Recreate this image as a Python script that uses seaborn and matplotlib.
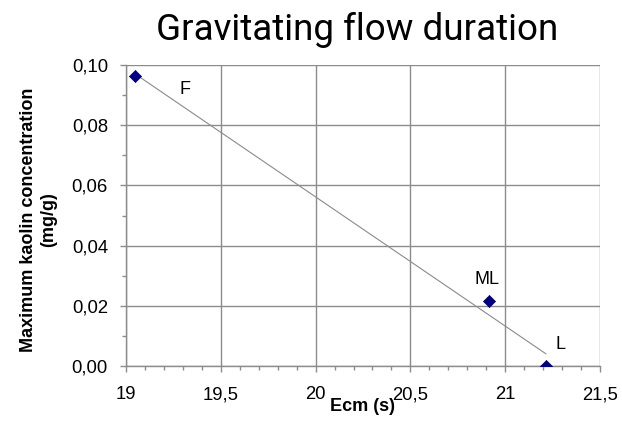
import numpy as np
import pandas as pd
import matplotlib
matplotlib.use("Agg")
import matplotlib.pyplot as plt
from matplotlib.ticker import MultipleLocator, FuncFormatter
import seaborn as sns

# Data
labels = ["F", "ML", "L"]
ecm = [19.05, 20.915, 21.215]
kaolin = [0.0963, 0.0216, 0.0]
label_x = [19.31, 20.905, 21.294]
label_y = [0.0917, 0.0289, 0.0070]

df = pd.DataFrame({"Ecm": ecm, "Kaolin": kaolin, "label": labels})

sns.set_style("white")
plt.rcParams["font.family"] = ["Liberation Sans", "DejaVu Sans"]
plt.rcParams["text.color"] = "black"

fig = plt.figure(figsize=(6.22, 4.26), dpi=100)
ax = fig.add_axes([126/622, 60/426, (600-126)/622, (366-65)/426])

sns.regplot(data=df, x="Ecm", y="Kaolin", scatter=False, ci=None, ax=ax,
            color="#8a8a8a", line_kws={"linewidth": 0.8})
sns.scatterplot(data=df, x="Ecm", y="Kaolin", ax=ax, marker="D", s=38,
                color="#000080", edgecolor="#00005a", linewidth=0.5, zorder=5)

for x, y, t in zip(label_x, label_y, labels):
    ax.text(x, y, t, fontsize=13, ha="center", va="center", color="black")

ax.set_xlim(19, 21.5)
ax.set_ylim(0, 0.10)
ax.xaxis.set_major_locator(MultipleLocator(0.5))
ax.xaxis.set_minor_locator(MultipleLocator(0.1))
ax.yaxis.set_major_locator(MultipleLocator(0.02))
ax.yaxis.set_minor_locator(MultipleLocator(0.01))
ax.xaxis.set_major_formatter(FuncFormatter(lambda v, p: (f"{v:g}").replace(".", ",")))
ax.yaxis.set_major_formatter(FuncFormatter(lambda v, p: f"{v:.2f}".replace(".", ",")))

ax.grid(True, which="major", color="#8c8c8c", linewidth=1.0)
ax.set_axisbelow(True)
for s in ["top", "right"]:
    ax.spines[s].set_visible(False)
for s in ["left", "bottom"]:
    ax.spines[s].set_color("#8c8c8c")
    ax.spines[s].set_linewidth(1.0)

ax.tick_params(axis="both", which="major", direction="out", length=4.5, width=1,
               color="#8c8c8c", labelsize=13.3, labelcolor="black", bottom=True, left=True)
ax.tick_params(axis="x", which="major", pad=10)
ax.tick_params(axis="y", which="major", pad=8.5)
ax.tick_params(axis="both", which="minor", direction="out", length=3, width=1,
               color="#8c8c8c", bottom=True, left=True)

ax.set_xlabel("Ecm (s)", fontsize=13, fontweight="bold", color="black")
ax.xaxis.set_label_coords(0.5, -(398 - 366) / 301)
ax.set_ylabel("Maximum kaolin concentration\n(mg/g)", fontsize=13, fontweight="bold", color="black")
ax.yaxis.set_label_coords(-(126 - 57) / 474, (366 - 220) / 301)

fig.text(357.5/622, 1 - 40/426, "Gravitating flow duration", fontsize=26.5,
         ha="center", va="baseline", color="black",
         family=["Roboto", "DejaVu Sans"])

fig.savefig("out.png", dpi=100)
